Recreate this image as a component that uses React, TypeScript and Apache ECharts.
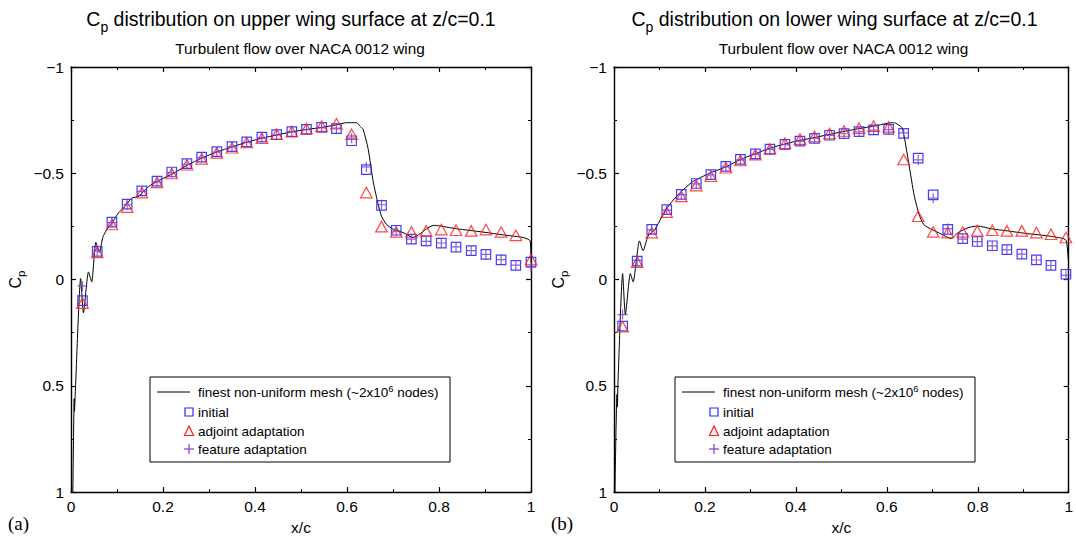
import React, { useEffect, useRef } from "react";
import * as echarts from "echarts";

const FONT = '"Liberation Sans", Arial, Helvetica, sans-serif';

// x/c tick labels and Cp tick labels
const xTickValues = [0, 0.2, 0.4, 0.6, 0.8, 1];
const xTickLabels = ["0", "0.2", "0.4", "0.6", "0.8", "1"];
const yTickValues = [-1, -0.5, 0, 0.5, 1];
const yTickLabels = ["\u22121", "\u22120.5", "0", "0.5", "1"];

// (a) upper wing surface
const upperX = [0.025, 0.057, 0.089, 0.122, 0.154, 0.187, 0.219, 0.252, 0.284, 0.317, 0.35, 0.382, 0.415, 0.447, 0.48, 0.512, 0.545, 0.577, 0.61, 0.642, 0.675, 0.707, 0.74, 0.772, 0.805, 0.837, 0.87, 0.902, 0.935, 0.967, 1.0];
const upperInitial = [0.099, -0.133, -0.27, -0.355, -0.417, -0.463, -0.506, -0.545, -0.576, -0.602, -0.625, -0.648, -0.67, -0.682, -0.696, -0.707, -0.716, -0.71, -0.653, -0.517, -0.349, -0.232, -0.19, -0.182, -0.171, -0.153, -0.136, -0.118, -0.093, -0.067, -0.082];
const upperAdjoint = [0.111, -0.128, -0.259, -0.341, -0.409, -0.457, -0.499, -0.54, -0.568, -0.596, -0.62, -0.645, -0.665, -0.684, -0.696, -0.71, -0.722, -0.733, -0.684, -0.409, -0.249, -0.224, -0.224, -0.229, -0.235, -0.232, -0.229, -0.235, -0.224, -0.208, -0.094];
const upperFeature = [0.03, -0.135, -0.268, -0.352, -0.415, -0.46, -0.503, -0.542, -0.574, -0.6, -0.624, -0.646, -0.668, -0.68, -0.695, -0.705, -0.714, -0.712, -0.665, -0.53, -0.352, -0.228, -0.19, -0.18, -0.172, -0.154, -0.136, -0.118, -0.094, -0.068, -0.06];
const upperLineX = [0.004, 0.007, 0.0075, 0.009, 0.021, 0.027, 0.038, 0.045, 0.054, 0.062, 0.069, 0.078, 0.088, 0.103, 0.114, 0.132, 0.146, 0.154, 0.168, 0.193, 0.222, 0.252, 0.285, 0.317, 0.35, 0.382, 0.415, 0.447, 0.48, 0.512, 0.545, 0.577, 0.599, 0.621, 0.628, 0.635, 0.646, 0.657, 0.668, 0.675, 0.686, 0.701, 0.722, 0.744, 0.759, 0.773, 0.788, 0.802, 0.838, 0.875, 0.904, 0.947, 0.983, 0.998, 1.0];
const upperLineCp = [1.0, 0.56, 0.62, 0.55, -0.005, 0.157, -0.036, 0.011, -0.175, -0.128, -0.198, -0.236, -0.262, -0.313, -0.337, -0.383, -0.391, -0.406, -0.437, -0.468, -0.499, -0.537, -0.572, -0.6, -0.624, -0.646, -0.665, -0.68, -0.695, -0.706, -0.716, -0.728, -0.738, -0.738, -0.722, -0.707, -0.614, -0.46, -0.352, -0.298, -0.259, -0.236, -0.221, -0.198, -0.216, -0.239, -0.255, -0.252, -0.239, -0.229, -0.221, -0.208, -0.198, -0.182, -0.08];

// (b) lower wing surface
const lowerX = [0.019, 0.051, 0.083, 0.116, 0.148, 0.181, 0.213, 0.246, 0.278, 0.311, 0.343, 0.376, 0.409, 0.441, 0.474, 0.506, 0.539, 0.571, 0.604, 0.637, 0.669, 0.702, 0.734, 0.767, 0.799, 0.832, 0.864, 0.897, 0.929, 0.961, 0.994];
const lowerInitial = [0.219, -0.087, -0.236, -0.329, -0.401, -0.452, -0.494, -0.532, -0.565, -0.591, -0.614, -0.636, -0.651, -0.664, -0.679, -0.687, -0.696, -0.704, -0.707, -0.688, -0.571, -0.398, -0.236, -0.193, -0.179, -0.159, -0.141, -0.12, -0.093, -0.067, -0.025];
const lowerAdjoint = [0.222, -0.082, -0.221, -0.317, -0.391, -0.442, -0.486, -0.526, -0.56, -0.588, -0.614, -0.641, -0.661, -0.673, -0.687, -0.699, -0.712, -0.722, -0.718, -0.565, -0.298, -0.224, -0.221, -0.224, -0.229, -0.232, -0.229, -0.229, -0.221, -0.213, -0.198];
const lowerFeature = [0.165, -0.09, -0.234, -0.327, -0.4, -0.45, -0.492, -0.53, -0.563, -0.59, -0.613, -0.635, -0.65, -0.665, -0.678, -0.686, -0.695, -0.703, -0.705, -0.69, -0.563, -0.383, -0.24, -0.19, -0.178, -0.158, -0.14, -0.12, -0.092, -0.066, -0.02];
const lowerLineX = [0.002, 0.0065, 0.0075, 0.0085, 0.019, 0.025, 0.036, 0.042, 0.056, 0.064, 0.075, 0.09, 0.104, 0.122, 0.144, 0.173, 0.209, 0.246, 0.278, 0.311, 0.343, 0.376, 0.409, 0.441, 0.474, 0.506, 0.539, 0.571, 0.613, 0.62, 0.633, 0.638, 0.649, 0.66, 0.671, 0.681, 0.696, 0.721, 0.741, 0.757, 0.779, 0.8, 0.829, 0.865, 0.909, 0.952, 0.988, 0.995, 1.0];
const lowerLineCp = [1.0, 0.54, 0.6, 0.5, -0.028, 0.165, -0.028, 0.011, -0.182, -0.136, -0.205, -0.236, -0.29, -0.352, -0.406, -0.46, -0.499, -0.53, -0.565, -0.592, -0.618, -0.638, -0.655, -0.668, -0.683, -0.697, -0.71, -0.722, -0.738, -0.735, -0.715, -0.676, -0.537, -0.398, -0.306, -0.259, -0.239, -0.213, -0.193, -0.221, -0.244, -0.252, -0.239, -0.229, -0.216, -0.206, -0.193, -0.182, -0.074];

const titles = [
  "distribution on upper wing surface at z/c=0.1",
  "distribution on lower wing surface at z/c=0.1",
];
const subtitle = "Turbulent flow over NACA 0012 wing";
const panelTags = ["(a)", "(b)"];
const legendNames = ["finest non-uniform mesh (~2x10", "initial", "adjoint adaptation", "feature adaptation"];

const BLUE = "#2a2aff";
const RED = "#ff1a1a";
const PURPLE = "#7f3fd0";

const zip = (xs: number[], ys: number[]) => xs.map((x, i) => [x, ys[i]]);

const GRIDS = [
  { left: 71, top: 67, width: 460, height: 431 },
  { left: 614, top: 67, width: 461, height: 431 },
];

function axesFor(g: number) {
  const line = { show: true, onZero: false, lineStyle: { color: "#000", width: 1.4 } };
  const tick = { show: true, inside: true, length: 5, lineStyle: { color: "#000", width: 1.2 } };
  const minor = { show: true, splitNumber: 2, length: 3, lineStyle: { color: "#000", width: 1 } };
  const xb: any = {
    type: "value", gridIndex: g, min: 0, max: 1, interval: 0.2, position: "bottom",
    axisLine: line, axisTick: tick, minorTick: minor, splitLine: { show: false },
    axisLabel: {
      color: "#000", fontFamily: FONT, fontSize: 15.5, margin: 6,
      formatter: (v: number) => {
        const i = xTickValues.findIndex((t) => Math.abs(t - v) < 1e-6);
        return i >= 0 ? xTickLabels[i] : "";
      },
    },
    name: "x/c", nameLocation: "middle", nameGap: 21,
    nameTextStyle: { color: "#000", fontFamily: FONT, fontSize: 15.5 },
  };
  const xt: any = {
    type: "value", gridIndex: g, min: 0, max: 1, interval: 0.2, position: "top",
    axisLine: line, axisTick: tick, minorTick: minor, splitLine: { show: false },
    axisLabel: { show: false },
  };
  const yl: any = {
    type: "value", gridIndex: g, min: -1, max: 1, interval: 0.5, inverse: true, position: "left",
    axisLine: line, axisTick: tick, minorTick: minor, splitLine: { show: false },
    axisLabel: {
      color: "#000", fontFamily: FONT, fontSize: 15.5, margin: 7,
      formatter: (v: number) => {
        const i = yTickValues.findIndex((t) => Math.abs(t - v) < 1e-6);
        return i >= 0 ? yTickLabels[i] : "";
      },
    },
    name: "{a|C}{s|p}", nameLocation: "middle", nameGap: 44, nameRotate: 90,
    nameTextStyle: {
      color: "#000",
      rich: {
        a: { fontFamily: FONT, fontSize: 16, color: "#000" },
        s: { fontFamily: FONT, fontSize: 11.5, color: "#000", padding: [11, 0, 0, 0] },
      },
    },
  };
  const yr: any = {
    type: "value", gridIndex: g, min: -1, max: 1, interval: 0.5, inverse: true, position: "right",
    axisLine: line, axisTick: tick, minorTick: minor, splitLine: { show: false },
    axisLabel: { show: false },
  };
  return { x: [xb, xt], y: [yl, yr] };
}

function seriesFor(g: number, lx: number[], ly: number[], px: number[], ini: number[], adj: number[], fea: number[]) {
  const ax = { xAxisIndex: 2 * g, yAxisIndex: 2 * g };
  return [
    {
      type: "line", ...ax, data: zip(lx, ly), symbol: "none", showSymbol: false, smooth: 0.2,
      lineStyle: { color: "#000", width: 1 }, z: 2, silent: true,
    },
    {
      type: "scatter", ...ax, data: zip(px, ini), symbol: "rect", symbolSize: 9.5,
      itemStyle: { color: "rgba(0,0,0,0)", borderColor: BLUE, borderWidth: 1.2, opacity: 0.9 }, z: 3,
    },
    {
      type: "scatter", ...ax, data: zip(px, adj), symbol: "triangle", symbolSize: [11.5, 10.5],
      itemStyle: { color: "rgba(0,0,0,0)", borderColor: RED, borderWidth: 1.2 }, z: 4,
    },
    {
      type: "scatter", ...ax, data: zip(px, fea), symbol: "path://M5,0L5,10M0,5L10,5", symbolSize: 10,
      itemStyle: { color: "none", borderColor: PURPLE, borderWidth: 1.2, opacity: 0.85 }, z: 5,
    },
  ];
}

function legendFor(x0: number, y0: number) {
  const txt = (y: number, text: string) => ({
    type: "text", x: x0 + 48, y, z: 101,
    style: { text, fill: "#000", font: `13.5px ${FONT}`, textVerticalAlign: "middle" },
  });
  const mx = x0 + 39;
  return [
    { type: "rect", z: 100, shape: { x: x0, y: y0, width: 300, height: 85 }, style: { fill: "#fff", stroke: "#000", lineWidth: 1 } },
    { type: "line", z: 101, shape: { x1: x0 + 7, y1: y0 + 15, x2: x0 + 40, y2: y0 + 15 }, style: { stroke: "#000", lineWidth: 1 } },
    {
      type: "text", x: x0 + 48, y: y0 + 15, z: 101,
      style: {
        text: `{a|${legendNames[0]}}{s|6}{a| nodes)}`,
        textVerticalAlign: "middle",
        rich: {
          a: { fontFamily: FONT, fontSize: 13.5, fill: "#000", color: "#000" },
          s: { fontFamily: FONT, fontSize: 9.5, fill: "#000", color: "#000", padding: [0, 0, 8, 0] },
        },
      },
    },
    { type: "rect", z: 101, shape: { x: mx - 4, y: y0 + 31, width: 8, height: 8 }, style: { fill: "none", stroke: BLUE, lineWidth: 1.2 } },
    txt(y0 + 35, legendNames[1]),
    { type: "polygon", z: 101, shape: { points: [[mx, y0 + 49], [mx - 4.5, y0 + 58.5], [mx + 4.5, y0 + 58.5]] }, style: { fill: "none", stroke: RED, lineWidth: 1.2 } },
    txt(y0 + 54, legendNames[2]),
    { type: "line", z: 101, shape: { x1: mx - 5, y1: y0 + 72, x2: mx + 5, y2: y0 + 72 }, style: { stroke: PURPLE, lineWidth: 1.2 } },
    { type: "line", z: 101, shape: { x1: mx, y1: y0 + 67, x2: mx, y2: y0 + 77 }, style: { stroke: PURPLE, lineWidth: 1.2 } },
    txt(y0 + 72, legendNames[3]),
  ];
}

function headerFor(g: number) {
  const cx = GRIDS[g].left + GRIDS[g].width / 2;
  return [
    {
      type: "text", x: cx - 10, y: 19, z: 50,
      style: {
        text: `{a|C}{s|p}{a| ${titles[g]}}`,
        textAlign: "center", textVerticalAlign: "middle",
        rich: {
          a: { fontFamily: FONT, fontSize: 19.5, fill: "#000", color: "#000" },
          s: { fontFamily: FONT, fontSize: 14, fill: "#000", color: "#000", padding: [15, 0, 0, 0] },
        },
      },
    },
    {
      type: "text", x: cx - 1, y: 48, z: 50,
      style: { text: subtitle, textAlign: "center", textVerticalAlign: "middle", fill: "#000", font: `15.3px ${FONT}` },
    },
    {
      type: "text", x: GRIDS[g].left - 63, y: 523, z: 50,
      style: { text: panelTags[g], textAlign: "left", textVerticalAlign: "middle", fill: "#000", font: `19px "Liberation Serif", "DejaVu Serif", serif` },
    },
  ];
}

export default function App() {
  const ref = useRef<HTMLDivElement>(null);
  useEffect(() => {
    if (!ref.current) return;
    const chart = echarts.init(ref.current, undefined, { renderer: "svg" });
    const a0 = axesFor(0);
    const a1 = axesFor(1);
    const option: any = {
      animation: false,
      backgroundColor: "#fff",
      grid: GRIDS.map((g) => ({ ...g, containLabel: false })),
      xAxis: [...a0.x, ...a1.x],
      yAxis: [...a0.y, ...a1.y],
      series: [
        ...seriesFor(0, upperLineX, upperLineCp, upperX, upperInitial, upperAdjoint, upperFeature),
        ...seriesFor(1, lowerLineX, lowerLineCp, lowerX, lowerInitial, lowerAdjoint, lowerFeature),
      ],
      graphic: [
        ...headerFor(0),
        ...headerFor(1),
        ...legendFor(150, 377),
        ...legendFor(675, 377),
      ],
    };
    chart.setOption(option);
    return () => chart.dispose();
  }, []);
  return (
    <div
      ref={ref}
      style={{ position: "fixed", left: 0, top: 0, width: 1076, height: 540, background: "#fff" }}
    />
  );
}
